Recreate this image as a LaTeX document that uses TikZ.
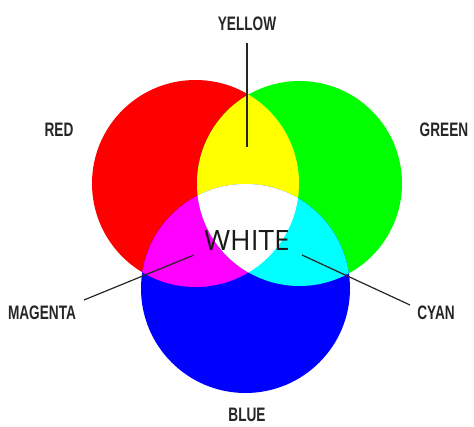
\documentclass[tikz,border=0pt]{standalone}
\usepackage{fontspec}
\newfontfamily\tagfont[FakeStretch=0.7]{Liberation Sans}
\newfontfamily\midfont{Open Sans}
\usetikzlibrary{positioning}
\definecolor{redlight}{RGB}{255,0,0}
\definecolor{greenlight}{RGB}{0,255,0}
\definecolor{bluelight}{RGB}{0,0,255}
\definecolor{yellowlight}{RGB}{255,255,0}
\definecolor{magentalight}{RGB}{255,0,255}
\definecolor{cyanlight}{RGB}{0,255,255}

\begin{document}
\begin{tikzpicture}[x=1pt, y=-1pt,
    tag/.style={font=\tagfont\bfseries\fontsize{19.5}{19.5}\selectfont, text=black!85, inner sep=0pt},
    pointer/.style={draw=black!85, line width=1.2pt}]
    \useasboundingbox (0,0) rectangle (474,427);

    % Circle centres
    \coordinate (r) at (195.5,183.5);
    \coordinate (g) at (299.5,183.5);
    \coordinate (b) at (245.5,288.5);

    % Primary discs
    \fill[redlight] (r) circle[radius=103.5pt];
    \fill[greenlight] (g) circle[radius=102.5pt];
    \fill[bluelight] (b) circle[radius=104.5pt];

    % Overlaps
    \begin{scope}
        \clip (r) circle[radius=103.5pt];
        \fill[yellowlight] (g) circle[radius=102.5pt];
        \fill[magentalight] (b) circle[radius=104.5pt];
    \end{scope}
    \begin{scope}
        \clip (g) circle[radius=102.5pt];
        \fill[cyanlight] (b) circle[radius=104.5pt];
    \end{scope}
    \begin{scope}
        \clip (r) circle[radius=103.5pt];
        \clip (g) circle[radius=102.5pt];
        \fill[white] (b) circle[radius=104.5pt];
    \end{scope}

    % Labels
    \node[tag] (yellowtag) at (247,24) {YELLOW};
    \node[tag] (redtag) at (59,130) {RED};
    \node[tag] (greentag) at (444,130) {GREEN};
    \node[tag] (magentatag) at (42,313) {MAGENTA};
    \node[tag] (cyantag) at (436,313) {CYAN};
    \node[tag] (bluetag) at (247,415) {BLUE};
    \node[font=\midfont\fontsize{28}{28}\selectfont, text=black!90, inner sep=0pt] (whitetag) at (247,241) {WHITE};

    % Pointers
    \coordinate (y1) at (247,43);
    \coordinate (y2) at (247,147);
    \coordinate (m1) at (84,300);
    \coordinate (m2) at (194,255);
    \coordinate (c1) at (302,255);
    \coordinate (c2) at (410,305);
    \draw[pointer] (y1) -- (y2);
    \draw[pointer] (m1) -- (m2);
    \draw[pointer] (c1) -- (c2);
\end{tikzpicture}
\end{document}
